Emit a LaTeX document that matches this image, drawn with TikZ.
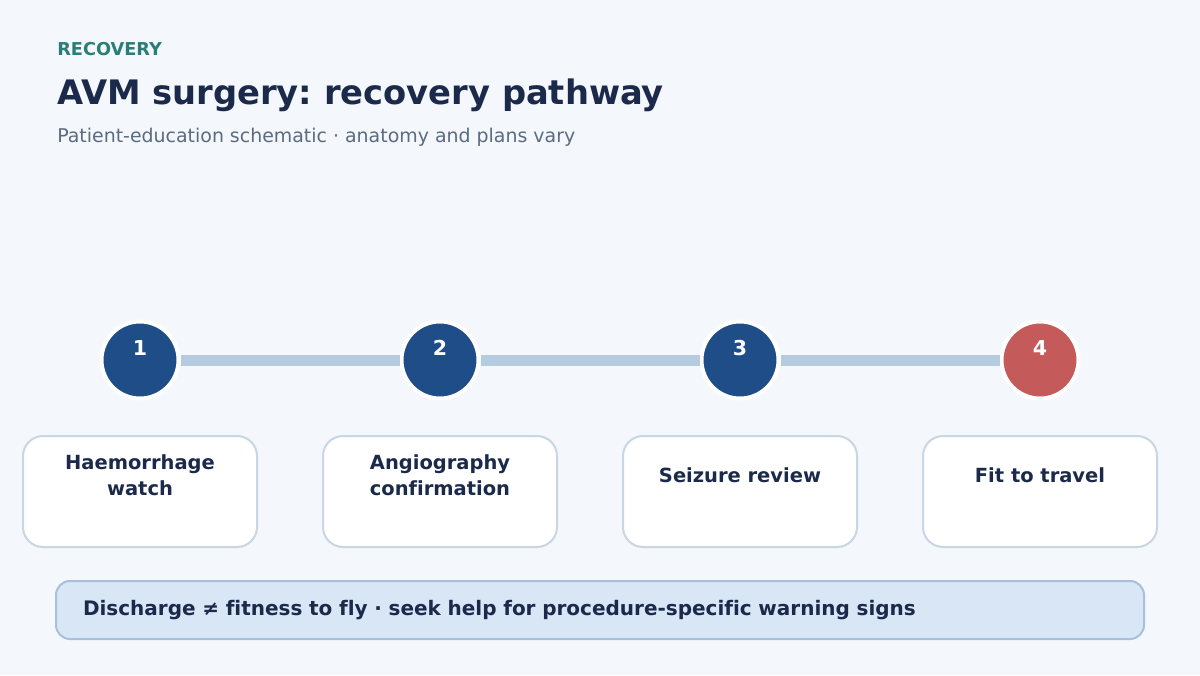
\documentclass[tikz,border=0pt]{standalone}
\usepackage{fontspec}
\setmainfont{DejaVu Sans}[Ligatures=NoCommon]
\usepackage{tikz}
\usetikzlibrary{positioning}
\usepackage{xcolor}
\definecolor{PageBg}{HTML}{F4F7FB}
\definecolor{Kicker}{HTML}{2B7E76}
\definecolor{Ink}{HTML}{1B2A4A}
\definecolor{Muted}{HTML}{5B6B80}
\definecolor{StepBlue}{HTML}{1E4D87}
\definecolor{StepRed}{HTML}{C55A5A}
\definecolor{Track}{HTML}{B5CBDF}
\definecolor{CardLine}{HTML}{C9D6E3}
\definecolor{NoteFill}{HTML}{D9E6F5}
\definecolor{NoteLine}{HTML}{A8C0DA}
\frenchspacing

\begin{document}
\begin{tikzpicture}[
    x=0.75pt, y=-0.75pt,
    stepdot/.style={circle, draw=white, line width=3pt, minimum size=57.75pt,
                    inner sep=0pt, outer sep=1.5pt},
    stepnum/.style={text=white, inner sep=0pt, font=\bfseries\fontsize{15.4pt}{18pt}\selectfont},
    card/.style={rectangle, draw=CardLine, line width=1.5pt, fill=white, rounded corners=15pt,
                 minimum width=175.5pt, minimum height=83.25pt, outer sep=0pt},
    cardtext/.style={align=center, text=Ink, inner sep=0pt,
                     font=\bfseries\fontsize{14.6pt}{19.5pt}\selectfont},
    track/.style={draw=Track, line width=8.25pt}
]
    % page and header
    \fill[PageBg] (0,0) rectangle (1200,675);
    \useasboundingbox (0,0) rectangle (1200,675);
    \node[anchor=base west, inner sep=0pt, text=Kicker, font=\bfseries\fontsize{13.3pt}{16pt}\selectfont] (kicker) at (57,55) {RECOVERY};
    \node[anchor=base west, inner sep=0pt, text=Ink, font=\bfseries\fontsize{25.3pt}{30pt}\selectfont] (title) at (57,104) {AVM surgery: recovery pathway};
    \node[anchor=base west, inner sep=0pt, text=Muted, font=\fontsize{14.2pt}{17pt}\selectfont] (subtitle) at (57,142) {Patient-education schematic · anatomy and plans vary};

    % steps
    \node[stepdot, fill=StepBlue] (s1) at (140,360) {};
    \node[stepdot, fill=StepBlue, right=164.25pt of s1] (s2) {};
    \node[stepdot, fill=StepBlue, right=164.25pt of s2] (s3) {};
    \node[stepdot, fill=StepRed, right=164.25pt of s3] (s4) {};

    \draw[track] (s1) -- (s2);
    \draw[track] (s2) -- (s3);
    \draw[track] (s3) -- (s4);

    \node[stepnum] (n1) at ([yshift=9pt]s1.center) {1};
    \node[stepnum] (n2) at ([yshift=9pt]s2.center) {2};
    \node[stepnum] (n3) at ([yshift=9pt]s3.center) {3};
    \node[stepnum] (n4) at ([yshift=9pt]s4.center) {4};

    % cards
    \node[card, below=26.625pt of s1] (c1) {};
    \node[card, below=26.625pt of s2] (c2) {};
    \node[card, below=26.625pt of s3] (c3) {};
    \node[card, below=26.625pt of s4] (c4) {};

    \node[cardtext] (t1) at ([yshift=12.4pt]c1.center) {Haemorrhage\\watch};
    \node[cardtext] (t2) at ([yshift=12.4pt]c2.center) {Angiography\\confirmation};
    \node[cardtext] (t3) at ([yshift=12.4pt]c3.center) {Seizure review};
    \node[cardtext] (t4) at ([yshift=12.4pt]c4.center) {Fit to travel};

    % note
    \node[rectangle, draw=NoteLine, line width=1.5pt, fill=NoteFill, rounded corners=10.5pt,
          minimum width=816pt, minimum height=43.5pt, text width=775.5pt, inner xsep=20.25pt,
          align=left, text=Ink, font=\bfseries\fontsize{15pt}{18pt}\selectfont] (note) at (600,610)
          {Discharge ≠ fitness to fly · seek help for procedure-specific warning signs};
\end{tikzpicture}
\end{document}
